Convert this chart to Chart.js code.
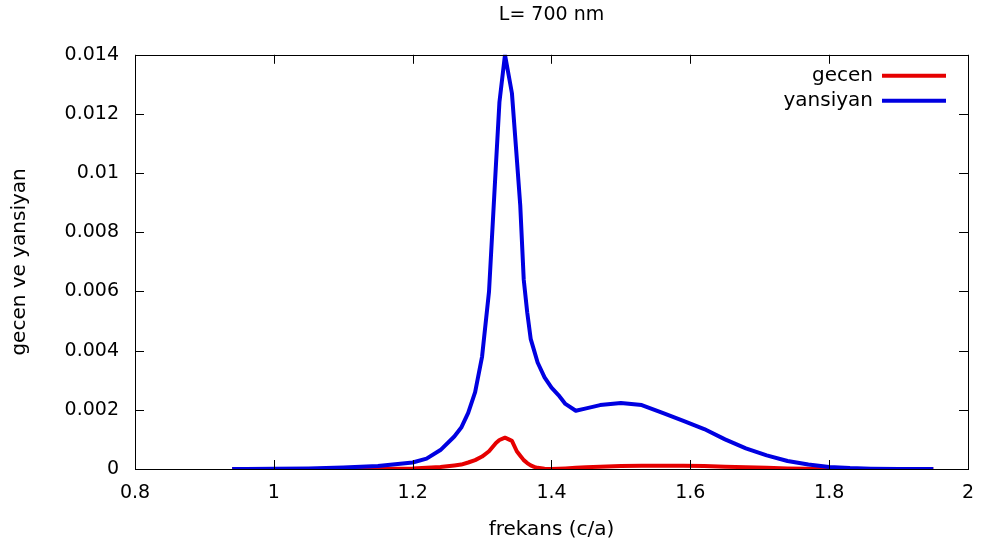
<!DOCTYPE html>
<html>
<head>
<meta charset="utf-8">
<script src="https://cdn.jsdelivr.net/npm/chart.js@4/dist/chart.umd.min.js"></script>
<style>
    html, body { margin: 0; padding: 0; background: #fff; }
    #wrap { width: 983px; height: 546px; }
</style>
</head>
<body>
<div id="wrap"><canvas id="myChart" width="983" height="546"></canvas></div>
<script>
// frequency (c/a)
const frekans = [0.94, 0.96, 1.0, 1.05, 1.1, 1.15, 1.2, 1.22, 1.24, 1.26, 1.27, 1.28, 1.29, 1.30,
    1.31, 1.32, 1.325, 1.333, 1.343, 1.35, 1.355, 1.36, 1.365, 1.37, 1.375, 1.38, 1.39, 1.40, 1.41, 1.42, 1.435, 1.45, 1.47,
    1.50, 1.53, 1.56, 1.59, 1.62, 1.65, 1.68, 1.71, 1.74, 1.77, 1.80, 1.83, 1.86, 1.90, 1.95];

const gecen = [0, 0, 0, 0, 0, 0.00001, 0.00002, 0.00004, 0.00007, 0.00012, 0.00015, 0.00022, 0.0003, 0.00042,
    0.0006, 0.00088, 0.00098, 0.00106, 0.00095, 0.0006, 0.00045, 0.0003, 0.0002, 0.00012, 0.00007, 0.00004, 0.00001, 0, 0.00001, 0.00002, 0.00004, 0.00006, 0.00008,
    0.0001, 0.00011, 0.00011, 0.00011, 0.0001, 0.00008, 0.00006, 0.00004, 0.00002, 0.00001, 0, 0, 0, 0, 0];

const yansiyan = [0, 0, 0.00001, 0.00002, 0.00005, 0.0001, 0.00022, 0.00035, 0.00064, 0.0011, 0.0014, 0.0019, 0.0026, 0.0038,
    0.006, 0.0103, 0.0124, 0.014, 0.0127, 0.0105, 0.0089, 0.0064, 0.0053, 0.0044, 0.004, 0.0036, 0.0031, 0.00275, 0.0025, 0.0022, 0.00197, 0.00205, 0.00216,
    0.00223, 0.00216, 0.0019, 0.00163, 0.00135, 0.001, 0.0007, 0.00046, 0.00027, 0.00015, 0.00007, 0.00003, 0.00001, 0, 0];

const xTicks = [0.8, 1.0, 1.2, 1.4, 1.6, 1.8, 2.0];
const yTicks = [0, 0.002, 0.004, 0.006, 0.008, 0.01, 0.012, 0.014];

const FONT = 'DejaVu Sans';

function toPoints(ys) {
    return frekans.map((x, i) => ({ x: x, y: ys[i] }));
}

// gnuplot style frame, inward ticks on all four sides, and legend inside plot
const framePlugin = {
    id: 'frame',
    afterDraw(chart) {
        const ctx = chart.ctx;
        const a = chart.chartArea;
        const xs = chart.scales.x;
        const ys = chart.scales.y;
        const tl = 9;
        ctx.save();
        ctx.strokeStyle = '#000';
        ctx.lineWidth = 1;
        ctx.beginPath();
        xTicks.forEach(v => {
            const px = Math.round(xs.getPixelForValue(v)) + 0.5;
            ctx.moveTo(px, a.bottom); ctx.lineTo(px, a.bottom - tl);
            ctx.moveTo(px, a.top); ctx.lineTo(px, a.top + tl);
        });
        yTicks.forEach(v => {
            const py = Math.round(ys.getPixelForValue(v)) + 0.5;
            ctx.moveTo(a.left, py); ctx.lineTo(a.left + tl, py);
            ctx.moveTo(a.right, py); ctx.lineTo(a.right - tl, py);
        });
        ctx.stroke();
        ctx.strokeRect(Math.round(a.left) + 0.5, Math.round(a.top) + 0.5,
            Math.round(a.right - a.left), Math.round(a.bottom - a.top));

        // legend
        ctx.font = '20px "' + FONT + '"';
        ctx.textAlign = 'right';
        ctx.textBaseline = 'middle';
        ctx.fillStyle = '#000';
        chart.data.datasets.forEach((ds, i) => {
            const y = a.top + 21 + i * 25;
            ctx.fillText(ds.label, a.right - 95, y);
            ctx.strokeStyle = ds.borderColor;
            ctx.lineWidth = 4;
            ctx.beginPath();
            ctx.moveTo(a.right - 86, y);
            ctx.lineTo(a.right - 22, y);
            ctx.stroke();
        });
        ctx.restore();
    }
};

function renderChart() {
    const ctx = document.getElementById('myChart').getContext('2d');
    new Chart(ctx, {
        type: 'line',
        data: {
            datasets: [{
                label: 'gecen',
                data: toPoints(gecen),
                borderColor: 'rgb(230, 0, 0)',
                borderWidth: 4,
                pointRadius: 0,
                tension: 0,
                borderJoinStyle: 'round',
                order: 1
            }, {
                label: 'yansiyan',
                data: toPoints(yansiyan),
                borderColor: 'rgb(0, 0, 225)',
                borderWidth: 4,
                pointRadius: 0,
                tension: 0,
                borderJoinStyle: 'round',
                order: 0
            }]
        },
        options: {
            responsive: false,
            animation: false,
            layout: { padding: { left: 0, right: 0, top: 0, bottom: 0 } },
            plugins: {
                legend: { display: false },
                tooltip: { enabled: false },
                title: {
                    display: true,
                    fullSize: false,
                    text: 'L= 700 nm',
                    color: '#000',
                    font: { family: FONT, size: 19, weight: 'normal' },
                    padding: { top: 4, bottom: 28 }
                }
            },
            scales: {
                x: {
                    type: 'linear',
                    min: 0.8,
                    max: 2,
                    afterBuildTicks(scale) {
                        scale.ticks = xTicks.map(v => ({ value: v }));
                    },
                    afterFit(scale) {
                        scale.height = 77;
                        scale.paddingRight = 15;
                    },
                    grid: { display: false, drawTicks: false },
                    border: { display: false },
                    ticks: {
                        color: '#000',
                        padding: 13,
                        maxRotation: 0,
                        font: { family: FONT, size: 19 },
                        callback: v => String(Number(v.toFixed(1)))
                    },
                    title: {
                        display: true,
                        text: 'frekans (c/a)',
                        color: '#000',
                        font: { family: FONT, size: 20 },
                        padding: { top: 0, bottom: 4 }
                    }
                },
                y: {
                    min: 0,
                    max: 0.014,
                    afterBuildTicks(scale) {
                        scale.ticks = yTicks.map(v => ({ value: v }));
                    },
                    afterFit(scale) { scale.width = 135; },
                    grid: { display: false, drawTicks: false },
                    border: { display: false },
                    ticks: {
                        color: '#000',
                        padding: 16,
                        font: { family: FONT, size: 19 },
                        callback: v => String(Number(v.toFixed(3)))
                    },
                    title: {
                        display: true,
                        text: 'gecen ve yansiyan',
                        color: '#000',
                        font: { family: FONT, size: 20 },
                        padding: { top: 8, bottom: 0 }
                    }
                }
            }
        },
        plugins: [framePlugin]
    });
}

window.addEventListener('DOMContentLoaded', renderChart);
</script>
</body>
</html>
